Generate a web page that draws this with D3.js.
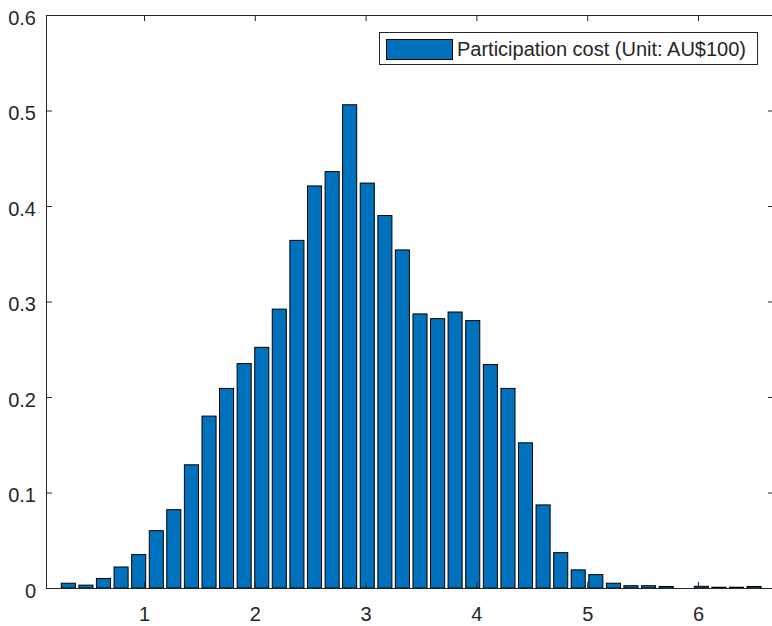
<!DOCTYPE html>
<html>
<head>
<meta charset="utf-8">
<script src="https://cdn.jsdelivr.net/npm/d3@7"></script>
<style>
  body { margin: 0; background: #fff; }
  svg { display: block; font-family: "Liberation Sans", Arial, sans-serif; }
</style>
</head>
<body>
<div id="chart"></div>
<script>
// bin centres (Unit: AU$100) and relative frequency of each bin
const binCenters = [0.317, 0.476, 0.634, 0.793, 0.952, 1.111, 1.269, 1.428, 1.587, 1.745,
    1.904, 2.063, 2.221, 2.380, 2.539, 2.698, 2.856, 3.015, 3.174, 3.332,
    3.491, 3.650, 3.808, 3.967, 4.126, 4.285, 4.443, 4.602, 4.761, 4.919,
    5.078, 5.237, 5.395, 5.554, 5.713, 5.872, 6.030, 6.189, 6.348, 6.506];
const binValues = [0.005, 0.003, 0.010, 0.022, 0.035, 0.060, 0.082, 0.129, 0.180, 0.209,
    0.235, 0.252, 0.292, 0.364, 0.421, 0.436, 0.506, 0.424, 0.390, 0.354,
    0.287, 0.282, 0.289, 0.280, 0.234, 0.209, 0.152, 0.087, 0.037, 0.019,
    0.014, 0.005, 0.0024, 0.0024, 0.0016, 0, 0.0018, 0.0008, 0.0008, 0.0016];
const binWidth = 0.1587;
const xTicks = [1, 2, 3, 4, 5, 6];
const yTicks = [0, 0.1, 0.2, 0.3, 0.4, 0.5, 0.6];
const yTickLabels = ["0", "0.1", "0.2", "0.3", "0.4", "0.5", "0.6"];
const legendLabel = "Participation cost (Unit: AU$100)";

const width = 772;
const height = 626;
const plotLeft = 46, plotRight = 774, plotTop = 15, plotBottom = 588;
const axisColor = "#262626";
const barColor = "#0072BD";
const tickLen = 6;

const svg = d3.select("#chart")
    .append("svg")
    .attr("width", width)
    .attr("height", height);

const x = d3.scaleLinear()
    .domain([0.1155, 6.686])
    .range([plotLeft, plotRight]);
const y = d3.scaleLinear()
    .domain([0, 0.6])
    .range([plotBottom, plotTop]);

// bars
const barW = x(binWidth * 0.8) - x(0);
svg.append("g")
    .selectAll("rect")
    .data(binCenters)
    .join("rect")
    .attr("x", (d) => x(d) - barW / 2)
    .attr("y", (d, i) => y(binValues[i]))
    .attr("width", barW)
    .attr("height", (d, i) => y(0) - y(binValues[i]))
    .attr("fill", barColor)
    .attr("stroke", "#000")
    .attr("stroke-width", 1);

// axes: box with inward ticks on every side
function styleAxis(g) {
    g.select(".domain").attr("stroke", axisColor).attr("stroke-width", 1);
    g.selectAll(".tick line").attr("stroke", axisColor);
    g.selectAll(".tick text")
        .attr("fill", axisColor)
        .style("font-size", "20px")
        .style("font-family", "Liberation Sans, Arial, sans-serif");
}

svg.append("g")
    .attr("transform", `translate(0,${plotBottom})`)
    .call(d3.axisBottom(x).tickValues(xTicks).tickFormat(d3.format("d"))
        .tickSizeInner(-tickLen).tickSizeOuter(0).tickPadding(19))
    .call(styleAxis);

svg.append("g")
    .attr("transform", `translate(0,${plotTop})`)
    .call(d3.axisTop(x).tickValues(xTicks).tickFormat("")
        .tickSizeInner(-tickLen).tickSizeOuter(0))
    .call(styleAxis);

svg.append("g")
    .attr("transform", `translate(${plotLeft},0)`)
    .call(d3.axisLeft(y).tickValues(yTicks).tickFormat((d, i) => yTickLabels[i])
        .tickSizeInner(-tickLen).tickSizeOuter(0).tickPadding(10))
    .call(styleAxis)
    .call((g) => g.selectAll(".tick text").attr("dy", "0.45em"));

svg.append("g")
    .attr("transform", `translate(${plotRight},0)`)
    .call(d3.axisRight(y).tickValues(yTicks).tickFormat("")
        .tickSizeInner(-tickLen).tickSizeOuter(0))
    .call(styleAxis);

// legend
const legend = svg.append("g");
legend.append("rect")
    .attr("x", 379.5).attr("y", 32.5)
    .attr("width", 378).attr("height", 32)
    .attr("fill", "#fff")
    .attr("stroke", axisColor)
    .attr("stroke-width", 1);
legend.append("rect")
    .attr("x", 386.5).attr("y", 39.5)
    .attr("width", 66).attr("height", 20)
    .attr("fill", barColor)
    .attr("stroke", "#000");
legend.append("text")
    .attr("x", 457)
    .attr("y", 56)
    .attr("fill", axisColor)
    .style("font-size", "20px")
    .text(legendLabel);
</script>
</body>
</html>
